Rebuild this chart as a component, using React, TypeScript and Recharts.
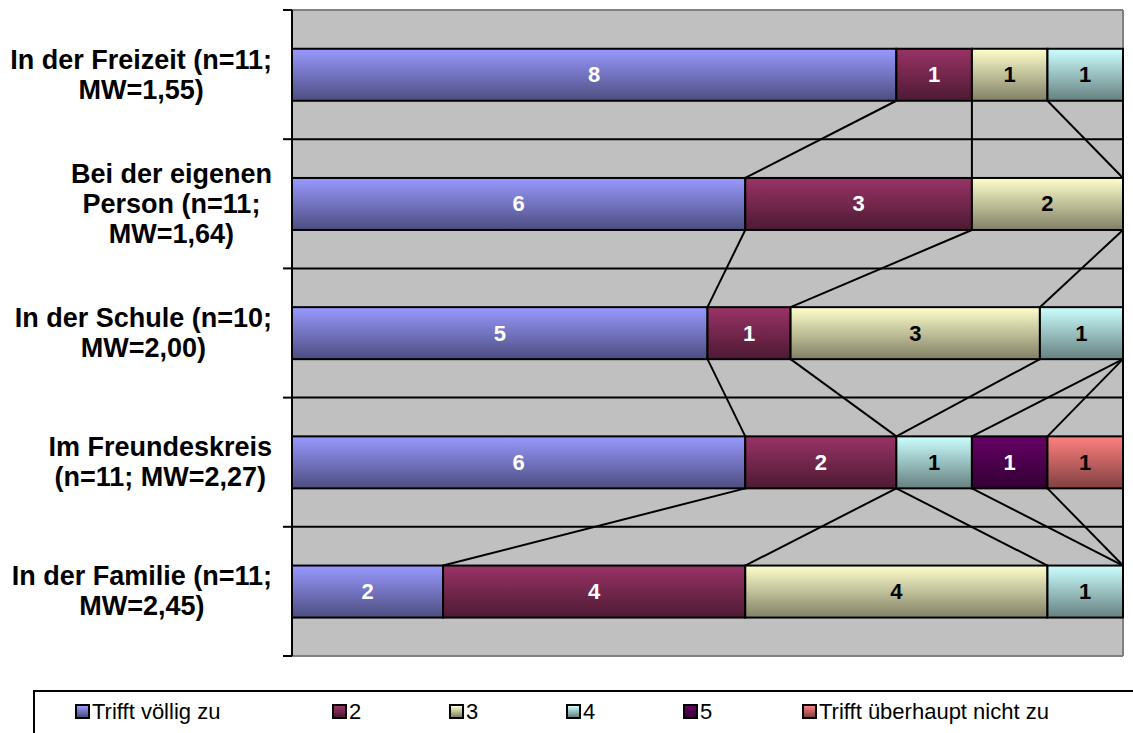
import React from "react";
import {
  Bar,
  BarChart,
  CartesianGrid,
  LabelList,
  Legend,
  XAxis,
  YAxis,
} from "recharts";

const categories = [
  "In der Freizeit (n=11;\nMW=1,55)",
  "Bei der eigenen\nPerson (n=11;\nMW=1,64)",
  "In der Schule (n=10;\nMW=2,00)",
  "Im Freundeskreis\n(n=11; MW=2,27)",
  "In der Familie (n=11;\nMW=2,45)",
];

const seriesNames = [
  "Trifft völlig zu",
  "2",
  "3",
  "4",
  "5",
  "Trifft überhaupt nicht zu",
];

const s1 = [8, 6, 5, 6, 2];
const s2 = [1, 3, 1, 2, 4];
const s3 = [1, 2, 3, 0, 4];
const s4 = [1, 0, 1, 1, 1];
const s5 = [0, 0, 0, 1, 0];
const s6 = [0, 0, 0, 1, 0];

const seriesValues = [s1, s2, s3, s4, s5, s6];

// top / bottom colour of each bar gradient, plus label colour
const fills = [
  { top: "#9999FF", bottom: "#4D4D80", text: "#FFFFFF" },
  { top: "#993366", bottom: "#4D1A33", text: "#FFFFFF" },
  { top: "#FFFFCC", bottom: "#808066", text: "#000000" },
  { top: "#CCFFFF", bottom: "#668080", text: "#000000" },
  { top: "#660066", bottom: "#330033", text: "#FFFFFF" },
  { top: "#FF8080", bottom: "#804040", text: "#000000" },
];

const FONT = "'Liberation Sans', Arial, sans-serif";
const WIDTH = 1133;
const HEIGHT = 733;
const MARGIN = { top: 10, right: 10, bottom: 77, left: 0 };
const LABEL_GAP = 20;

const data = categories.map((name, i) => {
  const row: Record<string, string | number> = { name };
  seriesValues.forEach((vals, k) => {
    row[`s${k + 1}`] = vals[i];
  });
  return row;
});

type Rect = { x: number; y: number; width: number; height: number };

// Excel style series lines: each bar remembers its rect so the next
// category's bar of the same series can draw a line back to it.
const rendered: Record<string, Rect[]> = {};

function makeShape(key: string) {
  return (props: any) => {
    const { x, y, width, height, index } = props;
    const list = (rendered[key] ||= []);
    list[index] = { x, y, width, height };
    const prev = index > 0 ? list[index - 1] : undefined;
    return (
      <g>
        {prev && (
          <line
            x1={prev.x + prev.width}
            y1={prev.y + prev.height}
            x2={x + width}
            y2={y}
            stroke="#000"
            strokeWidth={2}
          />
        )}
        {width > 0 && (
          <rect
            x={x}
            y={y}
            width={width}
            height={height}
            fill={`url(#grad-${key})`}
            stroke="#000"
            strokeWidth={2}
          />
        )}
      </g>
    );
  };
}

function makeLabel(color: string) {
  return (props: any) => {
    const { x, y, width, height, value } = props;
    if (!value) return null;
    return (
      <text
        x={x + width / 2}
        y={y + height / 2}
        textAnchor="middle"
        dominantBaseline="central"
        fill={color}
        fontFamily={FONT}
        fontWeight="bold"
        fontSize={22}
      >
        {value}
      </text>
    );
  };
}

// category label plus Excel style tick marks on the band boundaries
function CategoryTick(props: any) {
  const { x, y, payload, index, visibleTicksCount } = props;
  const count = visibleTicksCount || categories.length;
  const axisHeight =
    typeof props.height === "number" && props.height > 0
      ? props.height
      : HEIGHT - MARGIN.top - MARGIN.bottom;
  const half = axisHeight / count / 2;
  const axisX = x + LABEL_GAP;
  const marks = [y - half];
  if (index === count - 1) marks.push(y + half);
  return (
    <g>
      {marks.map(my => (
        <line
          key={my}
          x1={axisX - 9}
          x2={axisX}
          y1={my}
          y2={my}
          stroke="#000"
          strokeWidth={2}
        />
      ))}
      <foreignObject x={0} y={y - 70} width={x} height={140}>
        <div
          style={{
            height: "100%",
            display: "flex",
            justifyContent: "flex-end",
            alignItems: "center",
          }}
        >
          <div
            style={{
              textAlign: "center",
              whiteSpace: "pre-line",
              fontFamily: FONT,
              fontWeight: "bold",
              fontSize: 27,
              lineHeight: "30px",
              color: "#000",
            }}
          >
            {payload.value}
          </div>
        </div>
      </foreignObject>
    </g>
  );
}

const legendWidths = [257, 117, 117, 117, 119, 340];

function LegendBox() {
  return (
    <div
      style={{
        border: "2px solid #000",
        boxSizing: "border-box",
        height: 70,
        paddingLeft: 40,
        paddingTop: 7,
        display: "flex",
        alignItems: "flex-start",
        fontFamily: FONT,
        fontSize: 22,
        lineHeight: "25px",
        color: "#000",
        background: "#fff",
      }}
    >
      {seriesNames.map((name, i) => (
        <div
          key={name}
          style={{
            width: legendWidths[i],
            display: "flex",
            alignItems: "center",
            flexShrink: 0,
          }}
        >
          <span
            style={{
              width: 15,
              height: 15,
              boxSizing: "border-box",
              border: "2px solid #000",
              background: `linear-gradient(${fills[i].top}, ${fills[i].bottom})`,
              marginRight: 2,
              display: "inline-block",
            }}
          />
          <span>{name}</span>
        </div>
      ))}
    </div>
  );
}

// grid lines on the band boundaries: inner ones black, outer edge grey
function bandRows(from: number, to: number, step: number) {
  return (props: any) => {
    const { offset } = props;
    const n = categories.length;
    const out: number[] = [];
    for (let k = from; k <= to; k += step) {
      out.push(offset.top + (offset.height * k) / n);
    }
    return out;
  };
}
const innerRows = bandRows(1, categories.length - 1, 1);
const borderRows = bandRows(0, categories.length, categories.length);
const borderCols = (props: any) => [props.offset.left + props.offset.width];

export default function App() {
  return (
    <div
      style={{
        position: "absolute",
        left: 0,
        top: 0,
        width: WIDTH,
        height: HEIGHT,
        overflow: "hidden",
        background: "#fff",
      }}
    >
      <BarChart
        width={WIDTH}
        height={HEIGHT}
        data={data}
        layout="vertical"
        stackOffset="expand"
        barCategoryGap="30%"
        margin={MARGIN}
      >
        <defs>
          {fills.map((f, k) => (
            <linearGradient
              key={k}
              id={`grad-s${k + 1}`}
              x1="0"
              y1="0"
              x2="0"
              y2="1"
            >
              <stop offset="0%" stopColor={f.top} />
              <stop offset="100%" stopColor={f.bottom} />
            </linearGradient>
          ))}
        </defs>
        <CartesianGrid
          vertical={false}
          stroke="#000"
          strokeWidth={2}
          fill="#C0C0C0"
          fillOpacity={1}
          horizontalCoordinatesGenerator={innerRows}
        />
        <CartesianGrid
          stroke="#808080"
          strokeWidth={2}
          horizontalCoordinatesGenerator={borderRows}
          verticalCoordinatesGenerator={borderCols}
        />
        <XAxis type="number" domain={[0, 1]} hide />
        <YAxis
          type="category"
          dataKey="name"
          width={292}
          axisLine={{ stroke: "#000", strokeWidth: 2 }}
          tickLine={false}
          tickSize={0}
          tickMargin={LABEL_GAP}
          interval={0}
          tick={<CategoryTick />}
        />
        {fills.map((f, k) => {
          const key = `s${k + 1}`;
          return (
            <Bar
              key={key}
              dataKey={key}
              name={seriesNames[k]}
              stackId="a"
              shape={makeShape(key)}
              isAnimationActive={false}
            >
              <LabelList dataKey={key} content={makeLabel(f.text)} />
            </Bar>
          );
        })}
        <Legend
          layout="horizontal"
          verticalAlign="middle"
          align="center"
          wrapperStyle={{ left: 33, top: 690, width: 1120, height: 70 }}
          content={<LegendBox />}
        />
      </BarChart>
    </div>
  );
}
